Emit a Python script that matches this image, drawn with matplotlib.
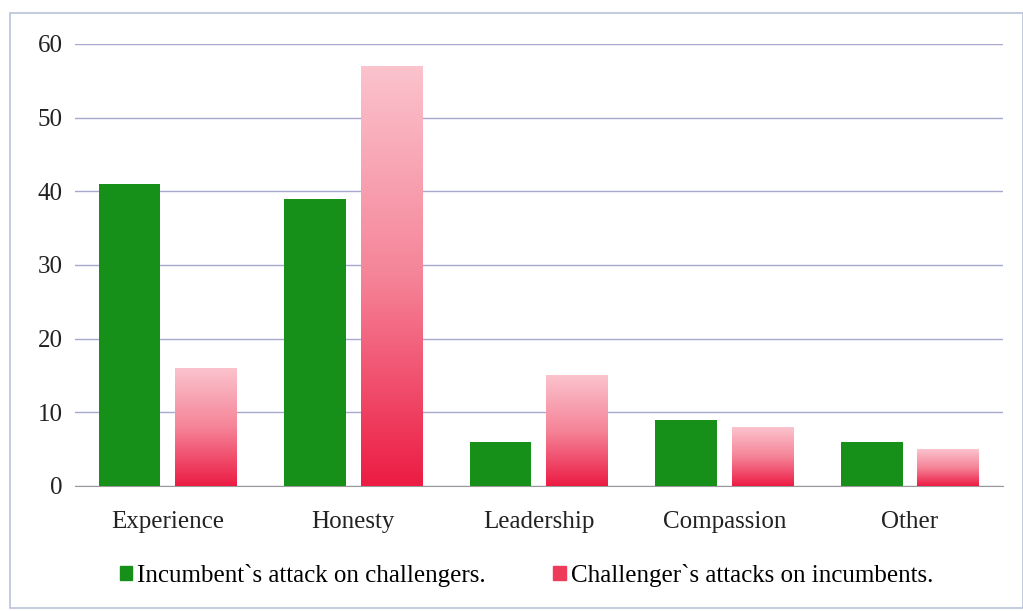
# Attack themes: incumbents vs challengers
import numpy as np
import matplotlib.pyplot as plt
from matplotlib.colors import LinearSegmentedColormap
from matplotlib.patches import Rectangle

categories = ['Experience', 'Honesty', 'Leadership', 'Compassion', 'Other']
incumbent = [41, 39, 6, 9, 6]
challenger = [16, 57, 15, 8, 5]
labels = ["Incumbent`s attack on challengers.", "Challenger`s attacks on incumbents."]

plt.rcParams['font.family'] = ['Liberation Serif', 'DejaVu Serif']

fig = plt.figure(figsize=(10.23, 6.11), dpi=100)
ax = fig.add_axes([0.0733, 0.2046, 0.907, 0.7234])

# outer frame around the chart
fig.patches.append(Rectangle((0.0098, 0.005), 0.99, 0.974, transform=fig.transFigure,
                             fill=False, edgecolor='#b8c4d8', linewidth=1.2))

x = np.arange(len(categories))
w = 0.333
gap = 0.08
green = '#17901a'
pink_cmap = LinearSegmentedColormap.from_list('pk', ['#ec1c44', '#f58498', '#fbc3cd'])

ax.bar(x - (w + gap) / 2, incumbent, w, color=green, zorder=3)
bars = ax.bar(x + (w + gap) / 2, challenger, w, color='none', zorder=3)

# vertical gradient fill for the challenger bars
grad = np.linspace(0, 1, 256).reshape(-1, 1)
for b in bars:
    x0, y0 = b.get_x(), b.get_y()
    im = ax.imshow(grad, cmap=pink_cmap, origin='lower', aspect='auto', zorder=3,
                   extent=[x0, x0 + b.get_width(), y0, y0 + b.get_height()])
    im.set_clip_path(b)

ax.set_xlim(-0.5, len(categories) - 0.5)
ax.set_ylim(0, 60)
ax.set_yticks(range(0, 61, 10))
ax.set_xticks(x)
ax.set_xticklabels(categories)
ax.grid(axis='y', color='#a8a8cc', linewidth=1.0, zorder=0)
ax.tick_params(length=0, labelsize=18, colors='#222222')
ax.tick_params(axis='y', pad=9)
ax.tick_params(axis='x', pad=18)
for s in ['top', 'right', 'left']:
    ax.spines[s].set_visible(False)
ax.spines['bottom'].set_color('#9a9a9a')

# legend along the bottom
handles = [Rectangle((0, 0), 1, 1, color=green), Rectangle((0, 0), 1, 1, color='#ee3b5a')]
fig.legend(handles, labels, loc='center', bbox_to_anchor=(0.5147, 0.058), ncol=2,
           frameon=False, fontsize=18, handlelength=0.5, handleheight=0.5,
           handletextpad=0.2, columnspacing=2.7)

plt.savefig('out.png', dpi=100)
